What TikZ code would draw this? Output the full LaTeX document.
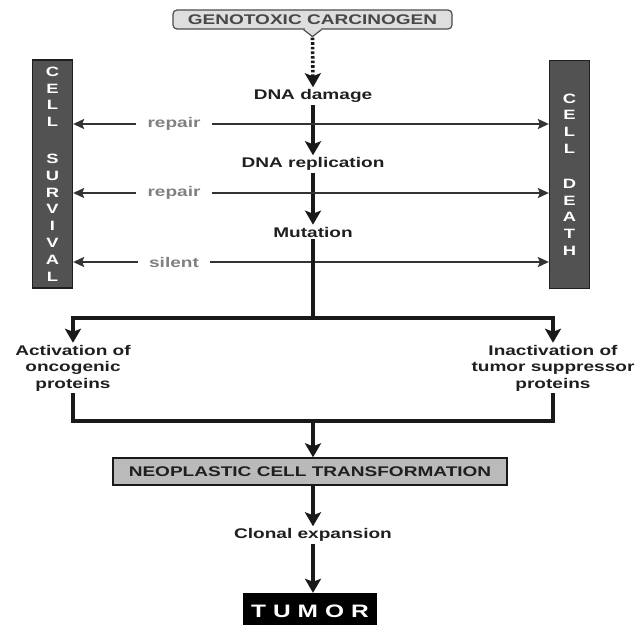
\documentclass[tikz,border=0pt]{standalone}
\usepackage{fontspec}
\setmainfont{Liberation Sans}[FakeStretch=1.36]
\usetikzlibrary{arrows.meta,calc}
\begin{document}
\begin{tikzpicture}[x=1pt,y=-1pt,
  every node/.style={font=\bfseries\fontsize{14}{16.5}\selectfont, inner sep=2pt, text=black!88},
  gry/.style={text=black!50, inner xsep=11pt, inner ysep=0pt},
  mainline/.style={line width=3.4pt, draw=black!90},
  main/.style={mainline, -{Stealth[length=14pt,width=16pt,inset=3pt]}},
  thin/.style={line width=1.8pt, draw=black!80, -{Stealth[length=11pt,width=10pt,inset=2pt]}},
  bar/.style={fill=black!68, draw=black!88, line width=1.3pt, minimum width=40pt, minimum height=228pt,
    text=white, align=center, inner sep=0pt, font=\bfseries\fontsize{13.5}{16.8}\selectfont},
  ]
\useasboundingbox (0,0) rectangle (642,624);

% top box
\node[draw=black!70, fill=black!13, line width=1.2pt, rounded corners=4pt,
      minimum width=279pt, minimum height=19pt, inner sep=0pt, text=black!72] (gc) at (312.5,19.5) {GENOTOXIC CARCINOGEN};
\fill[black!13] ($(gc.south)+(-8,-1.5)$) rectangle ($(gc.south)+(8,0.2)$);
\fill[black!13] ($(gc.south)+(-9,0)$) -- ($(gc.south)+(0,7)$) -- ($(gc.south)+(9,0)$) -- cycle;
\draw[draw=black!70, line width=1.2pt, line join=miter] ($(gc.south)+(-9,0)$) -- ($(gc.south)+(0,7)$) -- ($(gc.south)+(9,0)$);
\coordinate (gtip) at ($(gc.south)+(0,8)$);

% side bars
\node[bar] (surv) at (52.5,174) {C\\E\\L\\L\\[20pt]S\\U\\R\\V\\I\\V\\A\\L};
\node[bar] (death) at (569.5,174.5) {C\\E\\L\\L\\[18pt]D\\E\\A\\T\\H};

% central chain
\node (dmg) at (313,96) {DNA damage};
\node (rep) at (313,164) {DNA replication};
\node (mut) at (313,232) {Mutation};

\draw[line width=3.6pt, draw=black!90, dash pattern=on 2.6pt off 2pt,
      -{Stealth[length=14pt,width=16pt,inset=3pt]}] (gtip) -- (dmg.north);
\draw[main] (dmg.south) -- (rep.north);
\draw[main] (rep.south) -- (mut.north);

% side arrows
\node[gry] (r1) at (174,124) {repair};
\node[gry] (r2) at (174,193) {repair};
\node[gry] (s1) at (174,262) {silent};
\foreach \n in {r1,r2,s1}{
  \draw[thin] (\n.west) -- (surv.east |- \n.west);
  \draw[thin] (\n.east) -- (death.west |- \n.east);
}

% branch
\coordinate (br) at (313,318);
\node[align=center] (act) at (73,368) {Activation of\\oncogenic\\proteins};
\node[align=center] (inact) at (553,368) {Inactivation of\\tumor suppressor\\proteins};
\draw[mainline] (mut.south) -- (br);
\draw[main] (br) -| (act.north);
\draw[main] (br) -| (inact.north);

\coordinate (jn) at (313,421);
\draw[mainline, line join=miter] (act.south) |- (jn) -| (inact.south);

\node[draw=black!90, fill=black!27, line width=1.4pt, minimum width=394pt, minimum height=27pt, inner sep=0pt]
  (neo) at (310,471.5) {NEOPLASTIC CELL TRANSFORMATION};
\draw[main] (jn) -- (jn |- neo.north);

\node (clon) at (313,535) {Clonal expansion};
\draw[main] (neo.south -| clon) -- (clon.north);

\node[fill=black, minimum width=134pt, minimum height=36pt, inner sep=0pt, text=white,
      font=\bfseries\fontsize{18}{20}\selectfont] (tum) at (310,611)
  {T\hspace{7pt}U\hspace{7pt}M\hspace{7pt}O\hspace{7pt}R};
\draw[main] (clon.south) -- (clon.south |- tum.north);
\end{tikzpicture}
\end{document}
